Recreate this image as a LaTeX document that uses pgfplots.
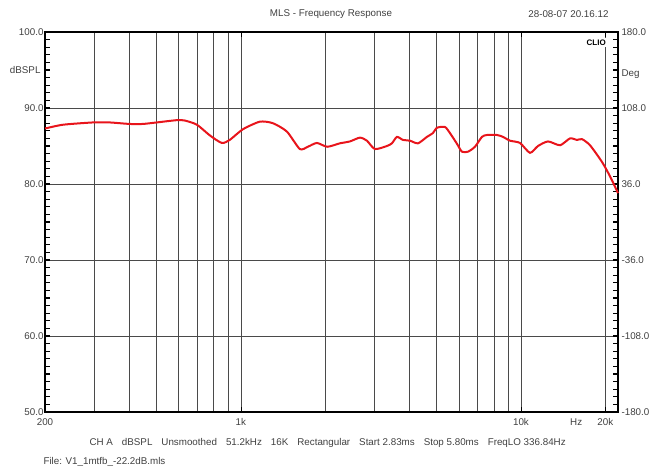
\documentclass[border=0pt]{standalone}
\usepackage{fontspec}
\setmainfont{Liberation Sans}
\usepackage{pgfplots}
\usepackage{pgfplotstable}
\pgfplotsset{compat=1.18}
\definecolor{gridgray}{HTML}{4A4A4A}
\definecolor{txtgray}{HTML}{404040}
\definecolor{curvered}{HTML}{E8141B}

% frequency response
\pgfplotstableread{
f      db
200    87.3
232    87.8
297    88.1
340    88.1
401    87.9
447    87.9
501    88.1
591    88.4
631    88.35
697    87.8
775    86.4
855    85.4
913    85.8
1017   87.2
1169   88.2
1301   88.0
1460   86.9
1624   84.6
1735   84.9
1868   85.4
2035   84.9
2257   85.35
2451   85.6
2661   86.1
2818   85.7
3010   84.6
3322   85.0
3462   85.35
3607   86.2
3790   85.8
4014   85.7
4287   85.35
4617   86.2
4850   86.7
5012   87.4
5354   87.5
5578   86.7
5907   85.3
6156   84.25
6467   84.25
6850   84.9
7256   86.2
7562   86.45
8209   86.45
8625   86.2
9135   85.7
9918   85.4
10768  84.1
11501  85.0
12490  85.6
13785  85.1
14962  86.0
15849  85.8
16516  85.9
17636  85.1
19467  82.9
20794  81.0
22200  78.8
}\resp

\begin{document}
\begin{tikzpicture}[every node/.style={text=txtgray, font=\fontsize{9.8}{11}\selectfont}]
\useasboundingbox (-45pt,-58pt) rectangle (607pt,412pt);
\begin{axis}[
    at={(0pt,0pt)}, anchor=south west,
    scale only axis,
    width=573pt, height=380pt,
    xmode=log,
    xmin=200, xmax=22200,
    ymin=50, ymax=100,
    xtick={200,1000,10000,20000},
    xticklabels={200,1k,10k,20k},
    minor xtick={300,400,500,600,700,800,900,2000,3000,4000,5000,6000,7000,8000,9000},
    ytick={50,51,...,100},
    yticklabels={50.0,,,,,,,,,,60.0,,,,,,,,,,70.0,,,,,,,,,,80.0,,,,,,,,,,90.0,,,,,,,,,,100.0},
    extra y ticks={60,70,80,90},
    extra y tick labels={},
    extra y tick style={grid=major},
    xmajorgrids, xminorgrids,
    major grid style={gridgray, line width=0.6pt},
    minor grid style={gridgray, line width=0.6pt},
    axis line style={black, line width=1.3pt},
    xtick align=inside,
    ytick align=inside,
    major tick length=5pt,
    minor tick length=0pt,
    xtick style={black, line width=0.6pt},
    ytick style={black, line width=1.1pt},
    xticklabel style={text=txtgray, yshift=-3pt},
    yticklabel style={text=txtgray, xshift=2pt},
    clip=false,
]
\addplot[curvered, line width=2pt, smooth, tension=0.4] table[x=f, y=db] {\resp};

% right hand scale (degrees)
\node[anchor=west] at (rel axis cs:1,1) {180.0};
\node[anchor=west] at (rel axis cs:1,0.8) {108.0};
\node[anchor=west] at (rel axis cs:1,0.6) {36.0};
\node[anchor=west] at (rel axis cs:1,0.4) {-36.0};
\node[anchor=west] at (rel axis cs:1,0.2) {-108.0};
\node[anchor=west] at (rel axis cs:1,0) {-180.0};
\node[anchor=west] at (rel axis cs:1,0.89) {Deg};
\node[anchor=east, xshift=-1pt] at (rel axis cs:0,0.9) {dBSPL};
\node[anchor=north, yshift=-3pt] at (rel axis cs:0.927,0) {Hz};
\node[fill=white, inner sep=1.5pt, text=black, font=\fontsize{8}{9}\selectfont\bfseries] at (rel axis cs:0.962,0.972) {CLIO};
\end{axis}

\node at (286pt,398pt) {MLS - Frequency Response};
\node[anchor=east] at (567pt,398pt) {28-08-07 20.16.12};
\node[anchor=west] at (41pt,-31pt) {CH A\hspace{9pt}dBSPL\hspace{9pt}Unsmoothed\hspace{9pt}51.2kHz\hspace{9pt}16K\hspace{9pt}Rectangular\hspace{9pt}Start 2.83ms\hspace{9pt}Stop 5.80ms\hspace{9pt}FreqLO 336.84Hz};
\node[anchor=west] at (-5pt,-50pt) {File: V1\_1mtfb\_-22.2dB.mls};
\end{tikzpicture}
\end{document}
